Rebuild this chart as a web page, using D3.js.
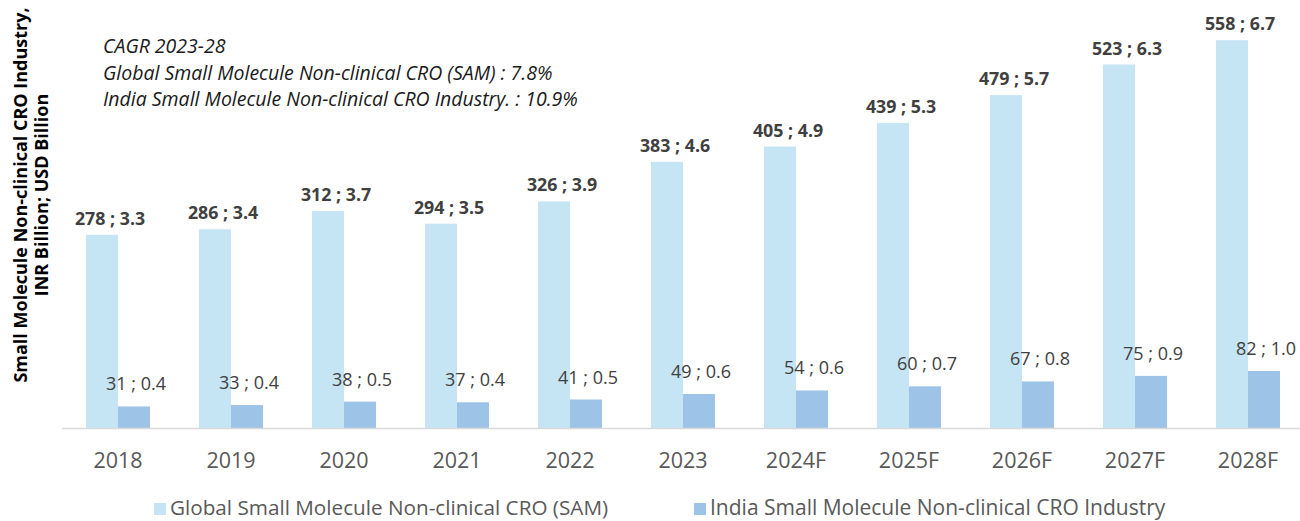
<!DOCTYPE html>
<html>
<head>
<meta charset="utf-8">
<script src="https://cdn.jsdelivr.net/npm/d3@7"></script>
<style>
  html, body { margin: 0; padding: 0; background: #fff; }
  svg { display: block; }
</style>
</head>
<body>
<svg id="chart" width="1300" height="521"></svg>
<script>
const categories = ["2018","2019","2020","2021","2022","2023","2024F","2025F","2026F","2027F","2028F"];
const globalINR = [278,286,312,294,326,383,405,439,479,523,558];
const globalUSD = [3.3,3.4,3.7,3.5,3.9,4.6,4.9,5.3,5.7,6.3,6.7];
const indiaINR = [31,33,38,37,41,49,54,60,67,75,82];
const indiaUSD = [0.4,0.4,0.5,0.4,0.5,0.6,0.6,0.7,0.8,0.9,1.0];
const seriesNames = ["Global Small Molecule Non-clinical CRO (SAM)", "India Small Molecule Non-clinical CRO Industry"];
const cagrLines = ["CAGR 2023-28", "Global Small Molecule Non-clinical CRO (SAM) : 7.8%", "India Small Molecule Non-clinical CRO Industry. : 10.9%"];
const yTitle = ["Small Molecule Non-clinical CRO Industry,", "INR Billion; USD Billion"];

const colors = ["#C5E5F5", "#9DC3E6"];
const font = "'Open Sans', sans-serif";

const svg = d3.select("#chart");
const baseY = 428;

const x0 = d3.scaleBand().domain(categories).range([61.5, 1304.5]).paddingInner(0.434).paddingOuter(0.217);
const x1 = d3.scaleBand().domain([0,1]).range([0, x0.bandwidth()]);
const y = d3.scaleLinear().domain([0, 600]).range([baseY, 11]);

const rows = categories.map((c, i) => ({
  cat: c,
  vals: [
    {s: 0, v: globalINR[i], u: globalUSD[i]},
    {s: 1, v: indiaINR[i], u: indiaUSD[i]}
  ]
}));

const g = svg.append("g").selectAll("g").data(rows).join("g")
  .attr("transform", d => `translate(${x0(d.cat)},0)`);

g.selectAll("rect").data(d => d.vals).join("rect")
  .attr("x", d => x1(d.s))
  .attr("width", x1.bandwidth())
  .attr("y", d => y(d.v))
  .attr("height", d => y(0) - y(d.v))
  .attr("fill", d => colors[d.s]);

// data labels
g.selectAll("text.lbl").data(d => d.vals).join("text")
  .attr("class", "lbl")
  .attr("x", d => x1(d.s) + x1.bandwidth() / 2 + (d.s === 0 ? 8 : 2))
  .attr("y", d => y(d.v) - (d.s === 0 ? 10 : 16))
  .attr("text-anchor", "middle")
  .attr("font-family", font)
  .attr("font-size", d => d.s === 0 ? 17.8 : 18)
  .attr("font-weight", d => d.s === 0 ? 700 : 400)
  .attr("fill", "#404040")
  .text(d => `${d.v} ; ${d.u.toFixed(1)}`);

// x axis
const axis = svg.append("g").attr("transform", `translate(0,${baseY})`)
  .call(d3.axisBottom(x0).tickSize(0).tickPadding(25));
axis.select(".domain").attr("stroke", "#D9D9D9").attr("stroke-width", 1.5);
axis.selectAll("text").attr("font-family", font).attr("font-size", 21.5).attr("fill", "#595959");

// CAGR annotation
svg.append("g").selectAll("text").data(cagrLines).join("text")
  .attr("x", 103)
  .attr("y", (d, i) => 53 + i * 26.5)
  .attr("font-family", font)
  .attr("font-style", "italic")
  .attr("font-size", 19.5)
  .attr("fill", "#1a1a1a")
  .text(d => d);

// y title
svg.append("g").attr("transform", "translate(21,195) rotate(-90)")
  .selectAll("text").data(yTitle).join("text")
  .attr("x", 0)
  .attr("y", (d, i) => 6 + i * 21)
  .attr("text-anchor", "middle")
  .attr("font-family", font)
  .attr("font-weight", 700)
  .attr("font-size", 18)
  .attr("fill", "#000")
  .text(d => d);

// legend
const legX = [154, 694];
const leg = svg.append("g").selectAll("g").data(seriesNames).join("g")
  .attr("transform", (d, i) => `translate(${legX[i]},0)`);
leg.append("rect").attr("x", 0).attr("y", 503).attr("width", 12).attr("height", 12)
  .attr("fill", (d, i) => colors[i]);
leg.append("text").attr("x", 16).attr("y", 515)
  .attr("font-family", font).attr("font-size", (d, i) => i === 0 ? 20.7 : 21)
  .attr("fill", "#595959")
  .text(d => d);
</script>
</body>
</html>
